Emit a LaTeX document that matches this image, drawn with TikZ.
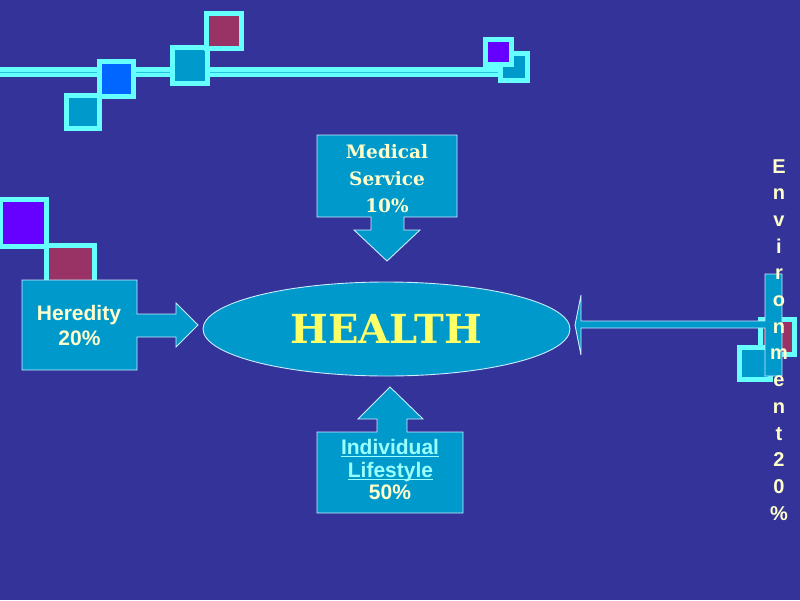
\documentclass[tikz,border=0pt]{standalone}
\usepackage{fontspec}
\usetikzlibrary{shapes.geometric}
\newfontfamily\arialf{Liberation Sans}
\newfontfamily\serff{DejaVu Serif}
\definecolor{bgc}{HTML}{333399}
\definecolor{tealc}{HTML}{0099CC}
\definecolor{cyanb}{HTML}{66FFFF}
\definecolor{purc}{HTML}{6600FF}
\definecolor{bluec}{HTML}{0066FF}
\definecolor{marc}{HTML}{993366}
\definecolor{edgec}{HTML}{CCECFF}
\definecolor{txty}{HTML}{FFFFCC}
\definecolor{hy}{HTML}{FFFF66}
\definecolor{linkc}{HTML}{99FFFF}
\newcommand\myul[1]{\setbox0\hbox{#1}\rlap{\rule[-3.2pt]{\wd0}{1.6pt}}\box0}
\tikzset{
  sq/.style={draw=cyanb, line width=5pt},
  callout/.style={fill=tealc, draw=edgec, line width=0.9pt, line join=miter},
  sanslbl/.style={anchor=base, inner sep=0pt, text=txty, font=\arialf\bfseries\fontsize{21}{25}\selectfont},
  linklbl/.style={anchor=base, inner sep=0pt, text=linkc, font=\arialf\bfseries\fontsize{21}{25}\selectfont},
  seriflbl/.style={anchor=base, inner sep=0pt, text=txty, font=\serff\bfseries\fontsize{18.5}{22}\selectfont},
  envl/.style={anchor=base, inner sep=0pt, text=txty, font=\arialf\bfseries\fontsize{20}{24}\selectfont},
}
\begin{document}
\begin{tikzpicture}[x=1pt,y=-1pt]
\useasboundingbox (0,0) rectangle (800,600);
\fill[bgc] (0,0) rectangle (800,600);
% top decoration
\draw[cyanb, line width=10pt] (0,72) -- (500,72);
\draw[tealc!60!cyanb, line width=0.8pt] (0,72) -- (500,72);
\draw[sq, fill=tealc] (66.5,95.5) rectangle (99.5,128.5);
\draw[sq, fill=bluec] (99.5,61.5) rectangle (133.5,96.5);
\draw[sq, fill=tealc] (172.5,47.5) rectangle (207.5,83.5);
\draw[sq, fill=marc] (206.5,13.5) rectangle (241.5,48.5);
\draw[sq, fill=tealc] (500.5,53.5) rectangle (527.5,80.5);
\draw[sq, fill=purc] (485.5,39.5) rectangle (511.5,64.5);
% left decoration
\draw[sq, fill=purc] (0.5,199.5) rectangle (46.5,246.5);
\draw[sq, fill=marc] (46.5,245.5) rectangle (94.5,293.5);
% right decoration
\draw[sq, fill=marc] (760.5,319.5) rectangle (794.5,354.5);
\draw[sq, fill=tealc] (739.5,347.5) rectangle (770.5,379.5);
% callouts
\draw[callout] (22,280) -- (137,280) -- (137,314) -- (176,314) -- (176,303) -- (198,325)
  -- (176,347) -- (176,337) -- (137,337) -- (137,370) -- (22,370) -- cycle;
\draw[callout] (317,135) -- (457,135) -- (457,217) -- (404,217) -- (404,230) -- (420,230)
  -- (387,261) -- (354,230) -- (371,230) -- (371,217) -- (317,217) -- cycle;
\draw[callout] (317,432) -- (377,432) -- (377,419) -- (358,419) -- (390,387) -- (423,419)
  -- (407,419) -- (407,432) -- (463,432) -- (463,513) -- (317,513) -- cycle;
\draw[callout] (782,274) -- (782,376) -- (765,376) -- (765,328) -- (581,328) -- (581,355)
  -- (575,325) -- (581,295) -- (581,321) -- (765,321) -- (765,274) -- cycle;
% health ellipse
\node[ellipse, fill=tealc, draw=edgec, line width=0.9pt, minimum width=367pt, minimum height=94pt,
  inner sep=0pt, outer sep=0pt, text=hy, font=\serff\bfseries\fontsize{40}{42}\selectfont]
  (health) at (386.5,329) {HEALTH};
% labels
\node[sanslbl] (her1) at (79,320) {Heredity};
\node[sanslbl] (her2) at (79.5,345) {20\%};
\node[seriflbl] (med1) at (387,158) {Medical};
\node[seriflbl] (med2) at (387,185) {Service};
\node[seriflbl] (med3) at (387,212) {10\%};
\node[linklbl] (ind1) at (390,454) {\myul{Individual}};
\node[linklbl] (ind2) at (390.5,477) {\myul{Lifestyle}};
\node[sanslbl] (ind3) at (390,499) {50\%};
\foreach \c [count=\i from 0] in {E,n,v,i,r,o,n,m,e,n,t,2,0,\%}
  \node[envl] (env\i) at (779,173+26.7*\i) {\c};
\end{tikzpicture}
\end{document}
